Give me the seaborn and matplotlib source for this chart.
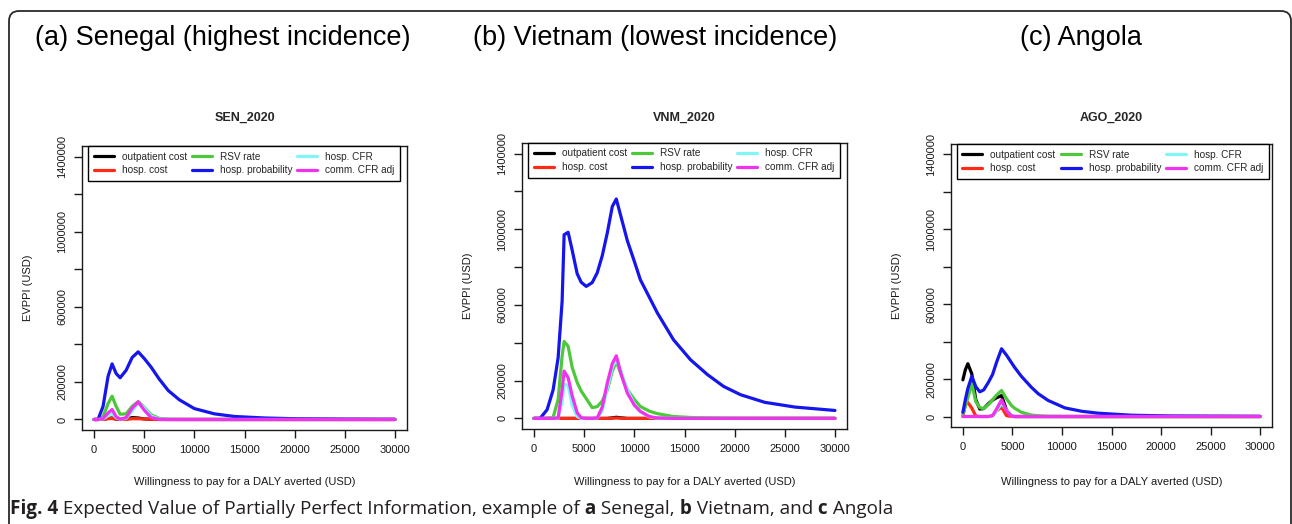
import numpy as np
import pandas as pd
import seaborn as sns
import matplotlib.pyplot as plt
from matplotlib.lines import Line2D
from matplotlib.patches import FancyBboxPatch

plt.switch_backend("Agg")

W, H = 1292, 524

# parameters (legend order) and their colours
params = ["outpatient cost", "hosp. cost", "RSV rate", "hosp. probability", "hosp. CFR", "comm. CFR adj"]
colors = ["#000000", "#ff2a16", "#4cc83a", "#1515ee", "#80f6f6", "#f032f0"]

# EVPPI values, in thousand USD
# (a) Senegal
sen_wtp = [0, 400, 900, 1400, 1800, 2200, 2600, 3200, 3800, 4400, 5000, 5700, 6500, 7400, 8500,
           10000, 12000, 14000, 17000, 20000, 25000, 30000]
sen_outpatient = [0, 0, 1, 6, 8, 2, 0, 2, 10, 8, 3, 1, 0, 0, 0, 0, 0, 0, 0, 0, 0, 0]
sen_hosp_cost = [0, 0, 1, 4, 5, 2, 0, 1, 4, 4, 3, 1, 0, 0, 0, 0, 0, 0, 0, 0, 0, 0]
sen_rsv_rate = [0, 0, 15, 85, 124, 70, 28, 30, 70, 95, 65, 25, 6, 1, 0, 0, 0, 0, 0, 0, 0, 0]
sen_hosp_prob = [0, 0, 70, 230, 296, 245, 222, 262, 330, 360, 325, 278, 215, 154, 105, 58, 30, 16, 8, 4, 2, 1]
sen_hosp_cfr = [0, 0, 3, 20, 32, 10, 1, 6, 45, 88, 62, 18, 3, 0, 0, 0, 0, 0, 0, 0, 0, 0]
sen_comm_cfr = [0, 0, 5, 35, 53, 15, 2, 10, 60, 94, 50, 10, 1, 0, 0, 0, 0, 0, 0, 0, 0, 0]

# (b) Vietnam
vnm_wtp = [0, 600, 1300, 1900, 2400, 2800, 3000, 3400, 3800, 4300, 4700, 5200, 5800, 6300, 6800, 7300,
           7800, 8200, 8700, 9300, 10000, 10600, 11500, 12300, 13900, 15600, 17300, 18900, 20600, 23000,
           26000, 30000]
vnm_outpatient = [0, 0, 0, 0, 0, 0, 0, 0, 0, 0, 0, 0, 0, 0, 0, 0, 3, 6, 3, 0, 0, 0, 0, 0, 0, 0, 0, 0, 0, 0, 0, 0]
vnm_hosp_cost = [0, 0, 0, 0, 0, 0, 0, 0, 0, 0, 0, 0, 0, 0, 0, 0, 1, 2, 1, 0, 0, 0, 0, 0, 0, 0, 0, 0, 0, 0, 0, 0]
vnm_rsv_rate = [0, 0, 0, 5, 99, 330, 407, 381, 270, 190, 145, 105, 57, 62, 92, 150, 250, 300, 230, 152,
                100, 63, 38, 25, 10, 5, 2, 1, 0, 0, 0, 0]
vnm_hosp_prob = [0, 0, 46, 150, 320, 620, 971, 984, 890, 765, 720, 698, 718, 770, 860, 980, 1120, 1160,
                 1060, 940, 830, 733, 640, 557, 416, 310, 231, 169, 125, 85, 60, 42]
vnm_hosp_cfr = [0, 0, 0, 0, 0, 90, 180, 175, 70, 10, 0, 0, 0, 1, 40, 160, 270, 310, 245, 150,
                75, 35, 8, 1, 0, 0, 0, 0, 0, 0, 0, 0]
vnm_comm_cfr = [0, 0, 0, 0, 2, 150, 250, 215, 120, 30, 3, 0, 0, 2, 60, 187, 290, 331, 230, 134,
                70, 37, 10, 2, 0, 0, 0, 0, 0, 0, 0, 0]

# (c) Angola
ago_wtp = [0, 250, 500, 900, 1300, 1700, 2100, 2600, 3000, 3400, 3900, 4400, 4900, 5200, 5900, 6900,
           7600, 8600, 10300, 12000, 13600, 17000, 21000, 25000, 30000]
ago_outpatient = [196, 250, 282, 228, 90, 40, 42, 70, 88, 100, 112, 35, 3, 0, 0, 0, 0, 0, 0, 0, 0, 0, 0, 0, 0]
ago_hosp_cost = [0, 65, 75, 45, 3, 0, 0, 0, 5, 30, 50, 5, 0, 0, 0, 0, 0, 0, 0, 0, 0, 0, 0, 0, 0]
ago_rsv_rate = [14, 55, 100, 175, 80, 48, 42, 65, 90, 115, 139, 95, 59, 45, 23, 8, 4, 1, 0, 0, 0, 0, 0, 0, 0]
ago_hosp_prob = [23, 90, 150, 215, 160, 132, 142, 185, 225, 290, 362, 328, 288, 264, 215, 157, 122, 86,
                 46, 28, 18, 7, 3, 2, 1]
ago_hosp_cfr = [0, 0, 0, 0, 0, 0, 0, 0, 3, 30, 70, 35, 3, 0, 0, 0, 0, 0, 0, 0, 0, 0, 0, 0, 0]
ago_comm_cfr = [0, 0, 0, 0, 0, 0, 0, 0, 5, 40, 89, 30, 2, 0, 0, 0, 0, 0, 0, 0, 0, 0, 0, 0, 0]

panels = [
    ("SEN_2020", sen_wtp, [sen_outpatient, sen_hosp_cost, sen_rsv_rate, sen_hosp_prob, sen_hosp_cfr, sen_comm_cfr]),
    ("VNM_2020", vnm_wtp, [vnm_outpatient, vnm_hosp_cost, vnm_rsv_rate, vnm_hosp_prob, vnm_hosp_cfr, vnm_comm_cfr]),
    ("AGO_2020", ago_wtp, [ago_outpatient, ago_hosp_cost, ago_rsv_rate, ago_hosp_prob, ago_hosp_cfr, ago_comm_cfr]),
]
headers = ["(a) Senegal (highest incidence)", "(b) Vietnam (lowest incidence)", "(c) Angola"]

# plot boxes in pixels (x0, y0, x1, y1)
boxes = [(82, 146, 407, 430), (522, 143, 847, 429), (951, 144, 1272, 427)]
header_pos = [(35, 38), (473, 38), (1020, 38)]

sns.set_style("ticks")
plt.rcParams["font.family"] = ["Liberation Sans", "DejaVu Sans"]

fig = plt.figure(figsize=(W / 100, H / 100), dpi=100)

# background axes in pixel coordinates for the frame, headers and caption
bg = fig.add_axes([0, 0, 1, 1])
bg.set_xlim(0, W)
bg.set_ylim(H, 0)
bg.axis("off")
bg.add_patch(FancyBboxPatch((9, 11), 1282, 600, boxstyle="round,pad=0,rounding_size=10",
                            fill=False, ec="#2a2a2a", lw=1.3, clip_on=False))

for (hx, hy), txt in zip(header_pos, headers):
    bg.text(hx, hy, txt, fontsize=19.5, ha="left", va="center", color="black")

for (title, wtp, series), (x0, y0, x1, y1) in zip(panels, boxes):
    ax = fig.add_axes([x0 / W, 1 - y1 / H, (x1 - x0) / W, (y1 - y0) / H])
    df = pd.DataFrame({"wtp": wtp})
    for p, vals in zip(params, series):
        df[p] = np.array(vals, dtype=float) * 1000
    long = df.melt(id_vars="wtp", var_name="parameter", value_name="evppi")
    sns.lineplot(data=long, x="wtp", y="evppi", hue="parameter", hue_order=params,
                 palette=colors, linewidth=2.3, estimator=None, sort=False, legend=False, ax=ax)

    ax.set_xlim(-1200, 31200)
    ax.set_ylim(-56000, 1456000)
    ax.set_xticks(np.arange(0, 30001, 5000))
    ax.set_xticklabels([str(v) for v in range(0, 30001, 5000)])
    yt = np.arange(0, 1400001, 200000)
    ax.set_yticks(yt)
    ax.set_yticklabels([str(v) if v in (0, 200000, 600000, 1000000, 1400000) else "" for v in yt])
    ax.tick_params(axis="both", length=5.5, width=1.0, pad=5, labelsize=8, colors="#1a1a1a")
    ax.tick_params(axis="y", labelrotation=90)
    plt.setp(ax.get_yticklabels(), va="center")
    for s in ax.spines.values():
        s.set_visible(True)
        s.set_linewidth(1.0)
        s.set_color("#1a1a1a")

    bw, bh = x1 - x0, y1 - y0
    ax.set_xlabel("Willingness to pay for a DALY averted (USD)", fontsize=8, color="#1a1a1a")
    ax.xaxis.set_label_coords(0.5, (y1 - 477) / bh)
    ax.set_ylabel("EVPPI (USD)", fontsize=8, color="#1a1a1a")
    ax.yaxis.set_label_coords(-49 / bw, 0.5)
    ax.set_title(title, fontsize=9, fontweight="bold", y=(y1 - 121) / bh, pad=0)

    handles = [Line2D([], [], color=c, lw=2.3) for c in colors]
    leg = ax.legend(handles, params, loc="upper left", bbox_to_anchor=(6 / bw, 1.0), ncol=3,
                    fontsize=7.2, frameon=True, fancybox=False, edgecolor="black", framealpha=1,
                    borderaxespad=0, handlelength=2.0, handletextpad=0.8, columnspacing=0.5,
                    labelspacing=0.35, borderpad=0.55)
    leg.get_frame().set_linewidth(1.0)

# caption with mixed bold / regular segments
fig.canvas.draw()
renderer = fig.canvas.get_renderer()
parts = [("Fig. 4", "bold"), (" Expected Value of Partially Perfect Information, example of", "normal"),
         (" a", "bold"), (" Senegal,", "normal"), (" b", "bold"), (" Vietnam, and", "normal"),
         (" c", "bold"), (" Angola", "normal")]
cx = 10
for txt, wt in parts:
    t = bg.text(cx, 514, txt, fontsize=13.6, fontweight=wt, ha="left", va="baseline",
                color="#231f20", family=["Open Sans", "DejaVu Sans"])
    cx += t.get_window_extent(renderer).width

fig.savefig("out.png", dpi=100)
